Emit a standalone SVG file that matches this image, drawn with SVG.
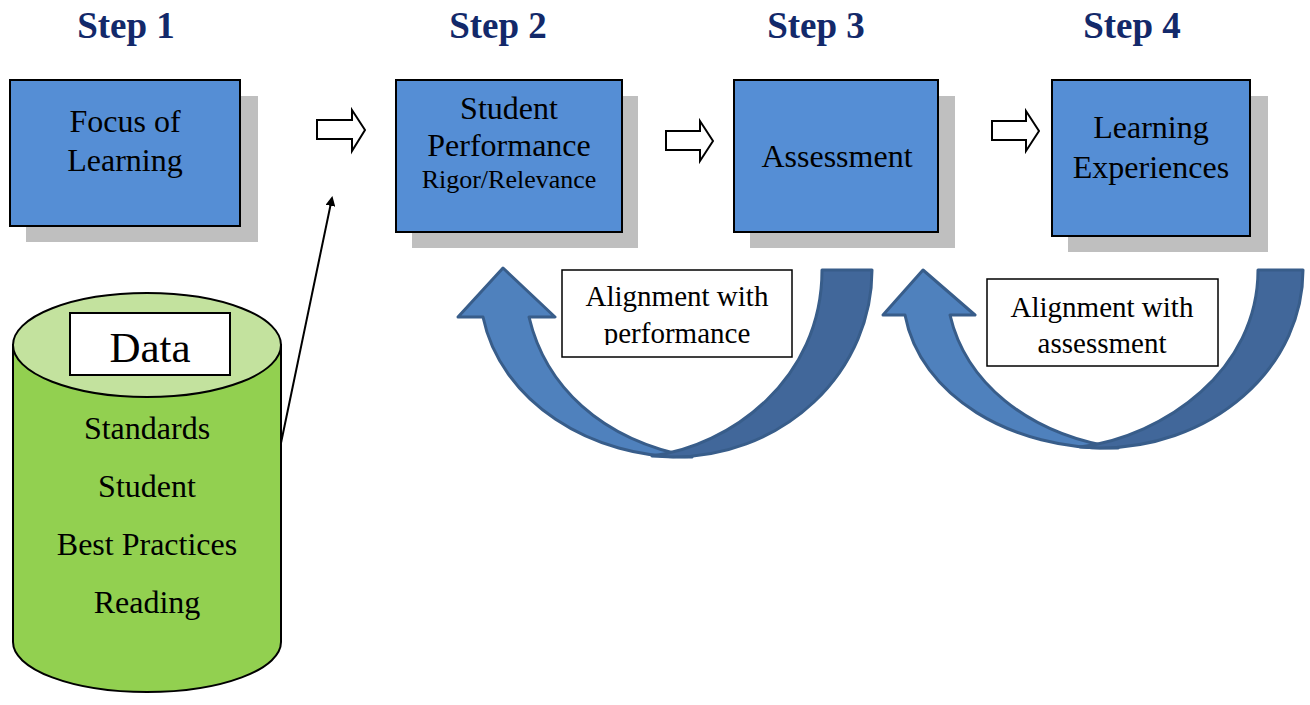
<svg xmlns="http://www.w3.org/2000/svg" width="1310" height="705" viewBox="0 0 1310 705">
<style>
.step{font-family:"Liberation Serif","Times New Roman",serif;font-weight:bold;font-size:37px;fill:#13296A;text-anchor:middle}
.t{font-family:"Liberation Serif","Times New Roman",serif;font-size:32px;fill:#000;text-anchor:middle}
.s{font-family:"Liberation Serif","Times New Roman",serif;font-size:26px;fill:#000;text-anchor:middle}
.l{font-family:"Liberation Serif","Times New Roman",serif;font-size:29px;fill:#000;text-anchor:middle}
.box{fill:#558ED5;stroke:#000;stroke-width:2}
.shadow{fill:#BFBFBF}
.blk{fill:#fff;stroke:#000;stroke-width:2}
.lab{fill:#fff;stroke:#000;stroke-width:1.5}
.light{fill:#4F81BD;stroke:#385D8A;stroke-width:3;stroke-linejoin:round}
.dark{fill:#41679A;stroke:#385D8A;stroke-width:3;stroke-linejoin:round}
</style>
<defs>
<marker id="ah" markerWidth="10" markerHeight="10" refX="8" refY="5" orient="auto" markerUnits="userSpaceOnUse">
<path d="M0,0 L10,5 L0,10 Z" fill="#000"/>
</marker>
<clipPath id="clipA"><rect x="562" y="270" width="230" height="75"/></clipPath>
</defs>
<rect width="1310" height="705" fill="#fff"/>
<g id="steps">
<text class="step" x="126" y="38">Step 1</text>
<text class="step" x="498" y="38">Step 2</text>
<text class="step" x="816" y="38">Step 3</text>
<text class="step" x="1132" y="38">Step 4</text>
</g>
<g id="focus">
<rect class="shadow" x="26" y="96" width="232" height="146"/>
<rect class="box" x="10" y="80" width="230" height="146"/>
<text class="t" x="125" y="132">Focus of</text>
<text class="t" x="125" y="171">Learning</text>
</g>
<g id="performance">
<rect class="shadow" x="412" y="96" width="226" height="152"/>
<rect class="box" x="396" y="80" width="226" height="152"/>
<text class="t" x="509" y="119">Student</text>
<text class="t" x="509" y="156">Performance</text>
<text class="s" x="509" y="188">Rigor/Relevance</text>
</g>
<g id="assessment">
<rect class="shadow" x="750" y="96" width="205" height="152"/>
<rect class="box" x="734" y="80" width="204" height="152"/>
<text class="t" x="837" y="167">Assessment</text>
</g>
<g id="experiences">
<rect class="shadow" x="1068" y="96" width="200" height="156"/>
<rect class="box" x="1052" y="80" width="198" height="156"/>
<text class="t" x="1151" y="138">Learning</text>
<text class="t" x="1151" y="178">Experiences</text>
</g>
<g id="data">
<path d="M13,345 L13,642 A134,50 0 0 0 281,642 L281,345 Z" fill="#92D050" stroke="#000" stroke-width="2"/>
<ellipse cx="147" cy="345" rx="134" ry="52" fill="#C3E29E" stroke="#000" stroke-width="2"/>
<rect x="70" y="313" width="160" height="62" fill="#fff" stroke="#000" stroke-width="2"/>
<text x="150" y="362" font-family="Liberation Serif,Times New Roman,serif" font-size="43" text-anchor="middle">Data</text>
<text class="t" x="147" y="439">Standards</text>
<text class="t" x="147" y="497">Student</text>
<text class="t" x="147" y="555">Best Practices</text>
<text class="t" x="147" y="613">Reading</text>
</g>
<g id="connectors">
<path class="blk" d="M317,120 L352,120 L352,110 L365,130 L352,151 L352,139 L317,139 Z"/>
<path class="blk" d="M666,131 L700,131 L700,121 L713,141 L700,161 L700,150 L666,150 Z"/>
<path class="blk" d="M992,121 L1026,121 L1026,111 L1039,131 L1026,151 L1026,140 L992,140 Z"/>
<line x1="281" y1="443" x2="332" y2="198" stroke="#000" stroke-width="2" marker-end="url(#ah)"/>
<path class="light" d="M692,457 C590,460 500,400 483,317 L458,317 L503,268 L555,317 L529,317 C545,385 600,440 692,457 Z"/>
<path class="dark" d="M822,270 L872,270 A199,187 0 0 1 673,457 L652,456 C730,446 822,380 822,270 Z"/>
<path class="light" d="M1118,448 C1010,451 920,395 905,315 L883,315 L923,270 L975,315 L950,315 C965,380 1025,434 1118,448 Z"/>
<path class="dark" d="M1258,270 L1303,270 A203,178 0 0 1 1100,448 L1080,447 C1165,436 1258,370 1258,270 Z"/>
</g>
<g id="labelA">
<rect class="lab" x="562" y="270" width="230" height="87"/>
<text class="l" x="677" y="306">Alignment with</text>
<text class="l" x="677" y="343" clip-path="url(#clipA)">performance</text>
</g>
<g id="labelB">
<rect class="lab" x="987" y="279" width="231" height="87"/>
<text class="l" x="1102" y="317">Alignment with</text>
<text class="l" x="1102" y="353">assessment</text>
</g>
</svg>
